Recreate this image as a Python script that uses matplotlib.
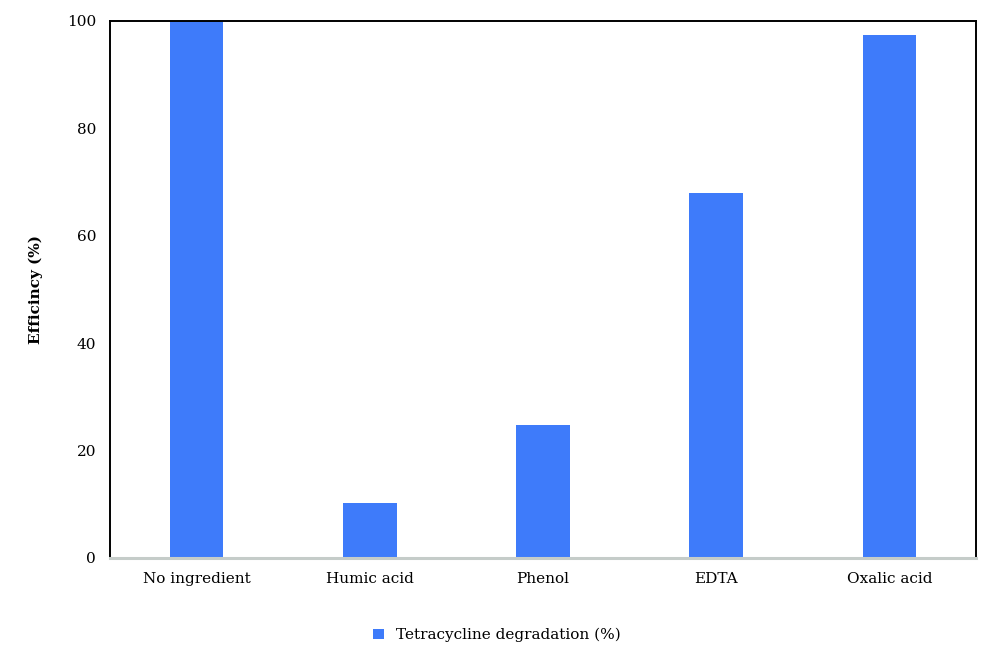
import matplotlib
matplotlib.use("Agg")
import matplotlib.pyplot as plt
from matplotlib.patches import Patch

categories = ["No ingredient", "Humic acid", "Phenol", "EDTA", "Oxalic acid"]
values = [100, 10.3, 24.8, 68.0, 97.3]
series_name = "Tetracycline degradation (%)"
yticks = [0, 20, 40, 60, 80, 100]

plt.rcParams['font.family'] = ['DejaVu Serif']

fig = plt.figure(figsize=(10, 6.54), dpi=100)
ax = fig.add_axes([0.110, 0.147, 0.866, 0.821])

color = '#3E7BFA'
ax.bar(range(len(categories)), values, width=0.31, color=color, zorder=2)
ax.set_xlim(-0.5, len(categories) - 0.5)
ax.set_ylim(0, 100)
ax.set_yticks(yticks)
ax.set_xticks(range(len(categories)))
ax.set_xticklabels(categories, fontsize=11)
ax.tick_params(axis='both', length=0, labelsize=11)
ax.tick_params(axis='x', pad=10)
ax.tick_params(axis='y', pad=10)
ax.set_ylabel("Efficincy (%)", fontsize=11, fontweight='bold')
ax.yaxis.set_label_coords(-0.077, 0.5)

for s in ['left', 'top', 'right']:
    ax.spines[s].set_color('black')
    ax.spines[s].set_linewidth(1.4)
ax.spines['bottom'].set_color('#c5ccc9')
ax.spines['bottom'].set_linewidth(2.2)

handle = Patch(facecolor=color, edgecolor='none')
fig.legend([handle], [series_name], loc='center', bbox_to_anchor=(0.497, 0.029),
           frameon=False, fontsize=11, handlelength=0.7, handleheight=0.7,
           handletextpad=0.8)

fig.savefig("out.png", dpi=100)
